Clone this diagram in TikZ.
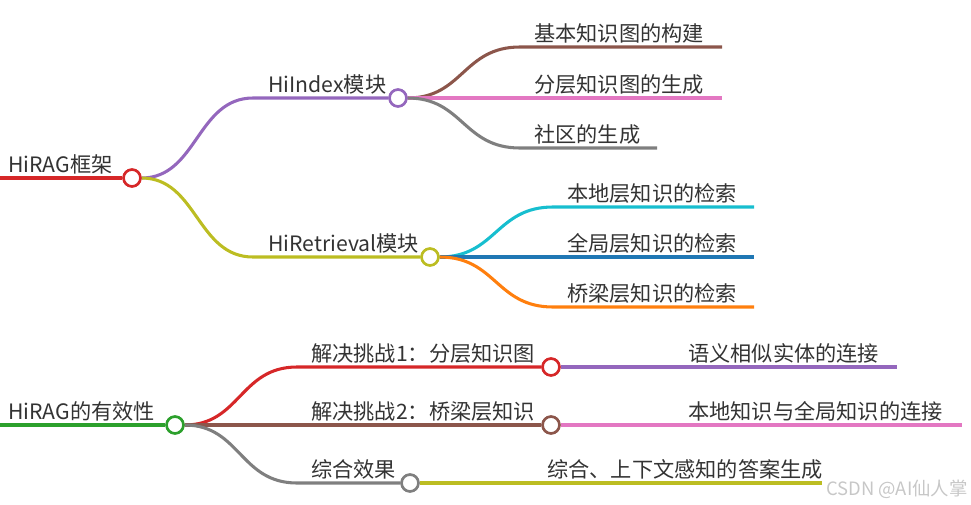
\documentclass[tikz,border=0pt]{standalone}
\usepackage{fontspec}
\setmainfont{Noto Sans CJK SC}
\definecolor{cRed}{HTML}{D62728}
\definecolor{cPurple}{HTML}{9467BD}
\definecolor{cOlive}{HTML}{BCBD22}
\definecolor{cBrown}{HTML}{8C564B}
\definecolor{cPink}{HTML}{E377C2}
\definecolor{cGrey}{HTML}{7F7F7F}
\definecolor{cCyan}{HTML}{17BECF}
\definecolor{cBlue}{HTML}{1F77B4}
\definecolor{cOrange}{HTML}{FF7F0E}
\definecolor{cGreen}{HTML}{2CA02C}
\definecolor{txt}{HTML}{333333}
\begin{document}
\begin{tikzpicture}[x=0.75pt,y=-0.75pt,
  link/.style={line width=2.3pt},
  dot/.style={circle,draw,fill=white,line width=1.9pt,minimum size=12.6pt,inner sep=0pt},
  lbl/.style={anchor=base west,inner sep=0pt,text=txt,font=\fontsize{15.9pt}{18pt}\selectfont},
  wm/.style={anchor=base west,inner sep=0pt,text=black!22,font=\fontsize{13.8pt}{15pt}\selectfont}]
\useasboundingbox (0,0) rectangle (971,504);

% ---------- top tree ----------
\coordinate (r1s) at (0,178);
\coordinate (h2) at (253,98);
\coordinate (h3) at (253,257);
\coordinate (e21) at (520,47);  \coordinate (f21) at (722,47);
\coordinate (f22) at (722,98);
\coordinate (e23) at (520,148); \coordinate (f23) at (657,148);
\coordinate (e31) at (553,207); \coordinate (f31) at (754,207);
\coordinate (f32) at (754,257);
\coordinate (e33) at (553,307); \coordinate (f33) at (754,307);

\node[dot,draw=cRed] (c1) at (132,178) {};
\node[dot,draw=cPurple] (c2) at (398,98) {};
\node[dot,draw=cOlive] (c3) at (430,257) {};

\draw[link,cRed] (r1s) -- (c1.west);
\draw[link,cPurple] (c1.east) .. controls (197,178) and (197,98) .. (h2) -- (c2.west);
\draw[link,cOlive] (c1.east) .. controls (197,178) and (197,257) .. (h3) -- (c3.west);
\draw[link,cBrown] (c2.east) .. controls (463,98) and (463,47) .. (e21) -- (f21);
\draw[link,cPink] (c2.east) -- (f22);
\draw[link,cGrey] (c2.east) .. controls (463,98) and (463,148) .. (e23) -- (f23);
\draw[link,cCyan] (c3.east) .. controls (496,257) and (496,207) .. (e31) -- (f31);
\draw[link,cBlue] (c3.east) -- (f32);
\draw[link,cOrange] (c3.east) .. controls (496,257) and (496,307) .. (e33) -- (f33);
% redraw dots on top
\node[dot,draw=cRed] at (c1) {};
\node[dot,draw=cPurple] at (c2) {};
\node[dot,draw=cOlive] at (c3) {};

\node[lbl] (t1) at (8,172) {HiRAG框架};
\node[lbl] (t2) at (268,92) {HiIndex模块};
\node[lbl] (t3) at (268,251) {HiRetrieval模块};
\node[lbl] (t21) at (534,41) {基本知识图的构建};
\node[lbl] (t22) at (534,92) {分层知识图的生成};
\node[lbl] (t23) at (534,142) {社区的生成};
\node[lbl] (t31) at (567,201) {本地层知识的检索};
\node[lbl] (t32) at (567,251) {全局层知识的检索};
\node[lbl] (t33) at (567,301) {桥梁层知识的检索};

% ---------- bottom tree ----------
\coordinate (r4s) at (0,425);
\coordinate (h5) at (297,367);
\coordinate (h7) at (297,483);
\coordinate (f5) at (897,367);
\coordinate (f6) at (962,425);
\coordinate (f7) at (822,483);

\node[dot,draw=cGreen] (c4) at (175,425) {};
\node[dot,draw=cRed] (c5) at (551,367) {};
\node[dot,draw=cBrown] (c6) at (551,425) {};
\node[dot,draw=cGrey] (c7) at (410,483) {};

\draw[link,cGreen] (r4s) -- (c4.west);
\draw[link,cRed] (c4.east) .. controls (240,425) and (240,367) .. (h5) -- (c5.west);
\draw[link,cBrown] (c4.east) -- (c6.west);
\draw[link,cGrey] (c4.east) .. controls (240,425) and (240,483) .. (h7) -- (c7.west);
\draw[link,cPurple] (c5.east) -- (f5);
\draw[link,cPink] (c6.east) -- (f6);
\draw[link,cOlive] (c7.east) -- (f7);
\node[dot,draw=cGreen] at (c4) {};
\node[dot,draw=cRed] at (c5) {};
\node[dot,draw=cBrown] at (c6) {};
\node[dot,draw=cGrey] at (c7) {};

\node[lbl] (t4) at (8,419) {HiRAG的有效性};
\node[lbl] (t5) at (311,361) {解决挑战1：分层知识图};
\node[lbl] (t6) at (311,419) {解决挑战2：桥梁层知识};
\node[lbl] (t7) at (311,477) {综合效果};
\node[lbl] (t51) at (688,361) {语义相似实体的连接};
\node[lbl] (t61) at (688,419) {本地知识与全局知识的连接};
\node[lbl] (t71) at (547,477) {综合、上下文感知的答案生成};

\node[wm] (wmk) at (826,495) {CSDN @AI仙人掌};
\end{tikzpicture}
\end{document}
